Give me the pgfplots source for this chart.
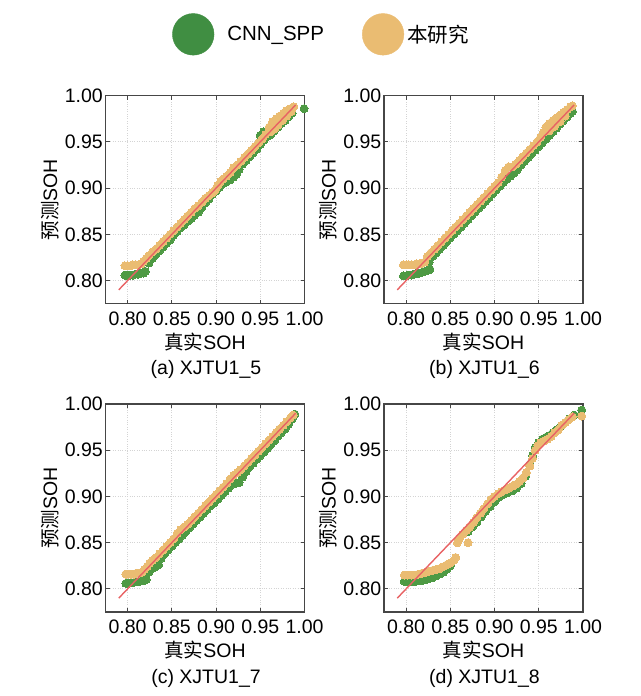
\documentclass[border=0pt]{standalone}
\usepackage{fontspec}
\setmainfont{Liberation Sans}
\newfontfamily\cjk{Noto Sans CJK SC}
\usepackage{pgfplots}
\pgfplotsset{compat=1.18}
\definecolor{cnngreen}{RGB}{78,154,68}
\definecolor{legendgreen}{RGB}{64,142,66}
\definecolor{ourtan}{RGB}{234,188,114}
\definecolor{fitred}{RGB}{232,98,100}
\definecolor{framegray}{RGB}{70,70,70}
\definecolor{gridgray}{RGB}{212,212,212}
\newcommand\tf{\fontsize{19.5}{23}\selectfont}
\pgfplotsset{
  sub/.style={
    scale only axis, width=199pt, height=208pt,
    xmin=0.775, xmax=1.0, ymin=0.775, ymax=1.0,
    xtick={0.80,0.85,0.90,0.95,1.00}, ytick={0.80,0.85,0.90,0.95,1.00},
    /pgf/number format/.cd, fixed, fixed zerofill, precision=2, assume math mode=true, /pgfplots/.cd,
    grid=major, major grid style={dotted, color=gridgray, line width=0.9pt},
    axis line style={draw=framegray, line width=1.1pt},
    tick align=inside, major tick length=4pt, tick style={framegray, line width=1pt},
    ticklabel style={font=\tf, inner sep=0pt},
    xticklabel style={yshift=-8pt},
    yticklabel style={xshift=-2.5pt},
    label style={font=\tf},
    xlabel={{\cjk 真实}SOH}, ylabel={{\cjk 预测}SOH},
    xlabel style={at={(axis description cs:0.5,-0.184)}, anchor=center},
    ylabel style={at={(axis description cs:-0.2803,0.5)}, anchor=center},
    title style={font=\tf, at={(axis description cs:0.505,-0.347)}, anchor=center},
    clip mode=individual,
  },
  gpts/.style={color=cnngreen, only marks, mark=*, mark size=4pt, mark options={draw=cnngreen, fill=cnngreen, line width=0pt}},
  tpts/.style={color=ourtan, only marks, mark=*, mark size=4pt, mark options={draw=ourtan, fill=ourtan, line width=0pt}},
  fitl/.style={color=fitred, line width=1.4pt, no marks},
}
\begin{document}
\begin{tikzpicture}
\useasboundingbox (0pt,0pt) rectangle (640pt,696pt);
% (a)
\begin{axis}[sub, at={(105.5pt,392.3pt)}, anchor=south west, title={(a) XJTU1\_5},
  legend style={at={(axis description cs:1.081,1.295)}, anchor=center, draw=none, fill=none,
    font=\fontsize{20.5}{24}\selectfont, nodes={inner sep=0pt},
    /tikz/every odd column/.append style={column sep=13pt},
    /tikz/every even column/.append style={column sep=38pt}},
  legend columns=2, legend cell align=left]
\addplot[gpts, legend image code/.code={\fill[legendgreen] (20.8pt,0pt) circle (20.8pt);}] coordinates {
(0.797,0.806)(0.800,0.805)(0.803,0.806)(0.806,0.806)(0.809,0.807)(0.812,0.807)(0.815,0.808)(0.818,0.808)(0.820,0.810)
(0.824,0.819)(0.828,0.824)(0.832,0.828)(0.836,0.832)(0.840,0.836)(0.844,0.840)(0.848,0.844)(0.852,0.849)(0.856,0.853)
(0.860,0.857)(0.864,0.860)(0.868,0.864)(0.872,0.867)(0.876,0.871)(0.880,0.874)(0.884,0.879)(0.888,0.884)(0.892,0.888)
(0.896,0.893)(0.900,0.897)(0.904,0.901)(0.908,0.905)(0.912,0.907)(0.916,0.909)(0.920,0.912)(0.923,0.915)(0.926,0.920)
(0.930,0.926)(0.934,0.930)(0.938,0.934)(0.942,0.938)(0.946,0.942)(0.950,0.947)(0.954,0.952)(0.958,0.956)(0.950,0.957)
(0.954,0.961)(0.962,0.958)(0.966,0.962)(0.970,0.966)(0.974,0.970)(0.978,0.973)(0.982,0.977)(0.986,0.981)(0.9995,0.986)};
\addlegendentry{CNN\_SPP}
\addplot[tpts, legend image code/.code={\fill[ourtan] (20.8pt,0pt) circle (20.8pt);}] coordinates {
(0.797,0.816)(0.800,0.816)(0.803,0.816)(0.806,0.817)(0.809,0.817)(0.812,0.817)(0.815,0.818)
(0.818,0.821)(0.821,0.824)(0.824,0.827)(0.828,0.831)(0.832,0.834)(0.836,0.838)(0.840,0.842)(0.844,0.846)(0.848,0.850)
(0.852,0.854)(0.856,0.858)(0.860,0.862)(0.864,0.866)(0.868,0.870)(0.872,0.874)(0.876,0.878)(0.880,0.881)(0.884,0.885)
(0.888,0.889)(0.892,0.892)(0.896,0.895)(0.899,0.898)(0.902,0.903)(0.905,0.907)(0.908,0.910)(0.912,0.913)(0.916,0.917)
(0.920,0.922)(0.924,0.925)(0.928,0.929)(0.932,0.933)(0.936,0.937)(0.940,0.941)(0.944,0.945)(0.948,0.949)(0.952,0.953)
(0.956,0.958)(0.960,0.966)(0.964,0.972)(0.968,0.975)(0.972,0.978)(0.976,0.981)(0.980,0.984)(0.984,0.986)(0.988,0.988)
(0.962,0.961)(0.966,0.964)(0.970,0.968)(0.975,0.973)(0.980,0.978)(0.985,0.983)};
\addlegendentry{\hspace*{-9.6pt}{\cjk 本研究}}
\addplot[fitl, forget plot] coordinates {(0.79,0.79)(0.99,0.99)};
\end{axis}
% (b)
\begin{axis}[sub, at={(384pt,392.3pt)}, anchor=south west, title={(b) XJTU1\_6}]
\addplot[gpts] coordinates {
(0.797,0.805)(0.800,0.805)(0.803,0.806)(0.806,0.806)(0.809,0.807)(0.812,0.808)(0.815,0.808)(0.818,0.809)(0.821,0.810)
(0.824,0.811)(0.827,0.812)(0.826,0.820)(0.830,0.826)(0.834,0.830)(0.838,0.834)(0.842,0.838)(0.846,0.842)(0.850,0.846)
(0.854,0.850)(0.858,0.854)(0.862,0.858)(0.866,0.862)(0.870,0.866)(0.874,0.870)(0.878,0.874)(0.882,0.878)(0.886,0.882)
(0.890,0.886)(0.894,0.890)(0.898,0.894)(0.902,0.898)(0.906,0.902)(0.910,0.906)(0.914,0.910)(0.918,0.913)(0.922,0.916)
(0.926,0.920)(0.930,0.925)(0.934,0.929)(0.938,0.933)(0.942,0.937)(0.946,0.941)(0.950,0.945)(0.954,0.949)(0.958,0.953)
(0.962,0.957)(0.966,0.961)(0.970,0.965)(0.974,0.969)(0.978,0.973)(0.982,0.977)(0.986,0.981)(0.988,0.983)};
\addplot[tpts] coordinates {
(0.797,0.817)(0.800,0.817)(0.803,0.817)(0.806,0.817)(0.809,0.817)(0.812,0.818)(0.815,0.818)(0.818,0.819)(0.821,0.820)
(0.824,0.826)(0.828,0.830)(0.832,0.834)(0.836,0.838)(0.840,0.842)(0.844,0.846)(0.848,0.850)(0.852,0.854)(0.856,0.858)
(0.860,0.862)(0.864,0.866)(0.868,0.870)(0.872,0.874)(0.876,0.878)(0.880,0.882)(0.884,0.886)(0.888,0.890)(0.892,0.894)
(0.896,0.898)(0.900,0.902)(0.904,0.906)(0.908,0.912)(0.912,0.919)(0.916,0.923)(0.920,0.923)(0.924,0.926)(0.928,0.930)
(0.932,0.934)(0.936,0.938)(0.940,0.942)(0.944,0.946)(0.948,0.950)(0.952,0.955)(0.955,0.960)(0.958,0.966)(0.962,0.970)
(0.966,0.973)(0.970,0.976)(0.974,0.979)(0.978,0.982)(0.982,0.985)(0.986,0.988)(0.988,0.989)
(0.962,0.962)(0.968,0.967)(0.974,0.972)(0.980,0.978)};
\addplot[fitl] coordinates {(0.79,0.79)(0.99,0.99)};
\end{axis}
% (c)
\begin{axis}[sub, at={(105.5pt,84pt)}, anchor=south west, title={(c) XJTU1\_7}]
\addplot[gpts] coordinates {
(0.798,0.806)(0.801,0.806)(0.804,0.807)(0.807,0.807)(0.810,0.808)(0.813,0.808)(0.816,0.809)(0.819,0.809)(0.821,0.810)
(0.824,0.818)(0.828,0.822)(0.832,0.824)(0.835,0.826)(0.838,0.833)(0.842,0.838)(0.846,0.842)(0.850,0.846)(0.854,0.850)
(0.858,0.854)(0.862,0.858)(0.866,0.862)(0.870,0.866)(0.874,0.870)(0.878,0.874)(0.882,0.878)(0.886,0.882)(0.890,0.886)
(0.894,0.890)(0.898,0.893)(0.902,0.897)(0.906,0.901)(0.910,0.905)(0.914,0.909)(0.918,0.913)(0.922,0.914)(0.926,0.915)
(0.930,0.921)(0.934,0.927)(0.938,0.932)(0.942,0.936)(0.946,0.940)(0.950,0.944)(0.954,0.948)(0.958,0.952)(0.962,0.956)
(0.966,0.960)(0.970,0.965)(0.974,0.969)(0.978,0.973)(0.982,0.978)(0.986,0.984)(0.989,0.989)};
\addplot[tpts] coordinates {
(0.798,0.816)(0.801,0.816)(0.804,0.816)(0.807,0.816)(0.810,0.817)(0.813,0.817)(0.816,0.818)
(0.819,0.821)(0.822,0.824)(0.825,0.828)(0.828,0.831)(0.832,0.834)(0.836,0.838)(0.840,0.842)(0.844,0.846)(0.848,0.850)
(0.852,0.854)(0.856,0.860)(0.860,0.864)(0.864,0.867)(0.868,0.870)(0.872,0.874)(0.876,0.878)(0.880,0.882)(0.884,0.886)
(0.888,0.890)(0.892,0.894)(0.896,0.898)(0.900,0.902)(0.904,0.906)(0.908,0.910)(0.912,0.914)(0.916,0.919)(0.920,0.923)
(0.924,0.926)(0.928,0.929)(0.932,0.933)(0.936,0.937)(0.940,0.941)(0.944,0.945)(0.948,0.949)(0.952,0.953)(0.956,0.957)
(0.960,0.961)(0.964,0.965)(0.968,0.969)(0.972,0.973)(0.976,0.977)(0.980,0.981)(0.984,0.985)(0.987,0.988)};
\addplot[fitl] coordinates {(0.79,0.79)(0.99,0.99)};
\end{axis}
% (d)
\begin{axis}[sub, at={(384pt,84pt)}, anchor=south west, title={(d) XJTU1\_8}]
\addplot[gpts] coordinates {
(0.798,0.808)(0.802,0.808)(0.806,0.808)(0.810,0.808)(0.814,0.809)(0.818,0.809)(0.822,0.810)(0.826,0.811)(0.830,0.812)
(0.834,0.814)(0.838,0.816)(0.842,0.818)(0.846,0.821)(0.850,0.825)
(0.870,0.862)(0.875,0.867)(0.880,0.872)(0.885,0.878)(0.890,0.884)(0.895,0.889)(0.900,0.894)(0.905,0.899)(0.910,0.902)
(0.915,0.904)(0.920,0.906)(0.925,0.909)(0.930,0.914)(0.935,0.922)(0.940,0.935)(0.943,0.944)(0.946,0.953)(0.950,0.958)
(0.954,0.962)(0.958,0.964)(0.962,0.966)(0.966,0.969)(0.970,0.972)(0.975,0.976)(0.980,0.980)(0.985,0.984)(0.990,0.988)
(0.9985,0.9935)};
\addplot[tpts] coordinates {
(0.798,0.815)(0.802,0.815)(0.806,0.815)(0.810,0.815)(0.814,0.816)(0.818,0.817)(0.822,0.818)(0.826,0.819)(0.830,0.820)
(0.834,0.821)(0.838,0.822)(0.842,0.824)(0.846,0.826)(0.850,0.828)(0.854,0.831)(0.856,0.834)
(0.858,0.850)(0.870,0.850)(0.860,0.854)(0.864,0.859)(0.868,0.863)(0.872,0.867)(0.876,0.872)(0.880,0.877)(0.884,0.882)
(0.888,0.887)(0.892,0.892)(0.896,0.897)(0.900,0.900)(0.904,0.903)(0.908,0.905)(0.912,0.907)(0.916,0.909)(0.920,0.911)
(0.924,0.913)(0.928,0.916)(0.932,0.920)(0.936,0.926)(0.940,0.933)(0.943,0.941)(0.946,0.950)(0.949,0.955)(0.952,0.958)
(0.956,0.960)(0.960,0.962)(0.964,0.965)(0.968,0.969)(0.972,0.972)(0.976,0.977)(0.980,0.980)(0.984,0.983)(0.988,0.986)
(0.9985,0.987)};
\addplot[fitl] coordinates {(0.79,0.79)(0.99,0.99)};
\end{axis}
\end{tikzpicture}
\end{document}
